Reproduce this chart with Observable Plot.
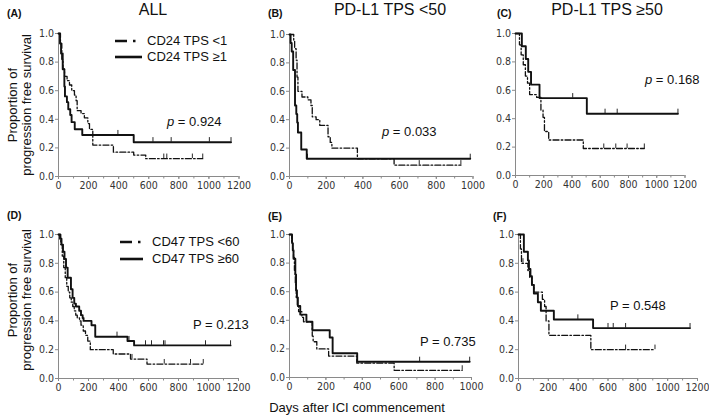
<!DOCTYPE html>
<html><head><meta charset="utf-8">
<script src="https://cdn.jsdelivr.net/npm/d3@7"></script>
<script src="https://cdn.jsdelivr.net/npm/@observablehq/plot@0.6"></script>
<style>
body{margin:0;background:#fff;}
#chart{position:relative;width:709px;height:417px;overflow:hidden;font-family:"Liberation Sans",Arial,sans-serif;color:#111;background:#fff;}
.abs{position:absolute;white-space:nowrap;}
.title{font-size:16px;line-height:18px;transform:translateX(-50%);}
.letter{font-size:10.5px;line-height:12px;font-weight:bold;}
.ylab{font-size:13px;line-height:13.5px;text-align:center;transform:translate(-50%,-50%) rotate(-90deg);}
.pval{font-size:13px;line-height:16px;}
.leg{font-size:13px;line-height:16px;}
.xlab{font-size:13px;line-height:16px;transform:translateX(-50%);}
</style></head>
<body><div id="chart"></div>
<script>
// ---------- data ----------
const colTitles = ["ALL", "PD-L1 TPS <50", "PD-L1 TPS \u226550"];
const panelLetters = ["(A)", "(B)", "(C)", "(D)", "(E)", "(F)"];
const row1Legend = ["CD24 TPS <1", "CD24 TPS \u22651"];
const row2Legend = ["CD47 TPS <60", "CD47 TPS \u226560"];
const pSymbols = ["p", "p", "p", "P", "P", "P"];
const pNumbers = ["0.924", "0.033", "0.168", "0.213", "0.735", "0.548"];
const yLabelLines = ["Proportion of", "progression free survival"];
const xLabel = "Days after ICI commencement";
const yTicks = [0, 0.2, 0.4, 0.6, 0.8, 1.0];
const xTicks1200 = [0, 200, 400, 600, 800, 1000, 1200];
const xTicks1000 = [0, 200, 400, 600, 800, 1000];

// (A) ALL, CD24
const aLowT  = [0, 13, 22, 30, 40, 57, 73, 88, 106, 117, 124, 150, 172, 195, 206, 228, 365, 500, 580, 959];
const aLowS  = [1, 0.93, 0.82, 0.75, 0.70, 0.67, 0.64, 0.60, 0.57, 0.53, 0.46, 0.44, 0.41, 0.37, 0.33, 0.22, 0.17, 0.15, 0.125, 0.125];
const aLowC  = [700, 720, 890, 959];
const aHighT = [0, 10, 17, 28, 39, 43, 56, 65, 78, 87, 108, 158, 500, 1147];
const aHighS = [1, 0.93, 0.86, 0.75, 0.63, 0.56, 0.52, 0.47, 0.43, 0.38, 0.33, 0.29, 0.24, 0.24];
const aHighC = [395, 628, 749, 1003, 1147];
// (B) PD-L1 <50, CD24
const bLowT  = [0, 23, 28, 36, 41, 46, 68, 100, 117, 124, 145, 165, 210, 222, 231, 370, 570, 934];
const bLowS  = [1, 0.96, 0.9, 0.82, 0.7, 0.6, 0.56, 0.54, 0.5, 0.42, 0.4, 0.36, 0.28, 0.24, 0.2, 0.125, 0.08, 0.08];
const bLowC  = [707, 934];
const bHighT = [0, 6, 12, 20, 30, 37, 42, 46, 64, 94, 985];
const bHighS = [1, 0.94, 0.88, 0.75, 0.5, 0.44, 0.38, 0.31, 0.19, 0.125, 0.125];
const bHighC = [98, 985];
// (C) PD-L1 >=50, CD24
const cLowT  = [0, 28, 40, 55, 70, 85, 100, 150, 180, 195, 205, 235, 480, 912];
const cLowS  = [1, 0.92, 0.85, 0.78, 0.70, 0.65, 0.57, 0.55, 0.46, 0.41, 0.31, 0.25, 0.19, 0.19];
const cLowC  = [625, 710, 790, 912];
const cHighT = [0, 45, 73, 90, 110, 170, 505, 1150];
const cHighS = [1, 0.91, 0.82, 0.73, 0.64, 0.545, 0.435, 0.435];
const cHighC = [405, 634, 720, 1150];
// (D) ALL, CD47
const dLowT  = [0, 15, 25, 35, 45, 55, 65, 75, 85, 95, 105, 115, 125, 140, 150, 165, 180, 195, 212, 365, 480, 590, 965];
const dLowS  = [1, 0.93, 0.85, 0.77, 0.70, 0.64, 0.60, 0.56, 0.53, 0.50, 0.47, 0.44, 0.42, 0.40, 0.37, 0.33, 0.30, 0.26, 0.20, 0.17, 0.135, 0.10, 0.10];
const dLowC  = [490, 705, 880, 965];
const dHighT = [0, 10, 20, 30, 40, 50, 61, 83, 94, 105, 116, 138, 150, 161, 167, 220, 245, 460, 504, 1147];
const dHighS = [1, 0.97, 0.93, 0.88, 0.83, 0.77, 0.70, 0.62, 0.56, 0.52, 0.50, 0.47, 0.44, 0.42, 0.40, 0.37, 0.29, 0.26, 0.23, 0.23];
const dHighC = [390, 470, 580, 620, 700, 710, 980, 1147];
// (E) PD-L1 <50, CD47
const eLowT  = [0, 12, 18, 22, 27, 32, 37, 43, 50, 68, 77, 125, 130, 150, 215, 370, 575, 949];
const eLowS  = [1, 0.95, 0.9, 0.84, 0.75, 0.65, 0.55, 0.5, 0.46, 0.42, 0.39, 0.29, 0.25, 0.2, 0.15, 0.1, 0.05, 0.05];
const eLowC  = [949];
const eHighT = [0, 14, 18, 22, 32, 36, 41, 46, 59, 93, 126, 221, 237, 372, 990];
const eHighS = [1, 0.94, 0.89, 0.83, 0.72, 0.61, 0.56, 0.5, 0.44, 0.39, 0.33, 0.28, 0.17, 0.11, 0.11];
const eHighC = [715, 990];
// (F) PD-L1 >=50, CD47
const fLowT  = [0, 13, 20, 63, 75, 90, 103, 160, 175, 185, 204, 485, 915];
const fLowS  = [1, 0.9, 0.8, 0.75, 0.7, 0.65, 0.6, 0.55, 0.5, 0.4, 0.3, 0.2, 0.2];
const fLowC  = [30, 718, 915];
const fHighT = [0, 36, 63, 70, 80, 90, 103, 130, 150, 237, 500, 1150];
const fHighS = [1, 0.88, 0.82, 0.76, 0.71, 0.65, 0.59, 0.53, 0.47, 0.41, 0.35, 0.35];
const fHighC = [398, 600, 635, 718, 1150];

// ---------- layout (pixels) ----------
const geo = [
  {x0: 57.5, x1: 238, y1: 33, y0: 176, xmax: 1200, xt: xTicks1200},
  {x0: 288.5, x1: 472, y1: 34, y0: 176, xmax: 1000, xt: xTicks1000},
  {x0: 514.5, x1: 684, y1: 33, y0: 175, xmax: 1200, xt: xTicks1200},
  {x0: 58, x1: 238, y1: 234, y0: 378, xmax: 1200, xt: xTicks1200},
  {x0: 289, x1: 471, y1: 234, y0: 377, xmax: 1000, xt: xTicks1000},
  {x0: 518, x1: 697, y1: 234, y0: 378, xmax: 1200, xt: xTicks1200}
];
const curves = [
  [{T: aLowT, S: aLowS, C: aLowC, dash: true}, {T: aHighT, S: aHighS, C: aHighC}],
  [{T: bLowT, S: bLowS, C: bLowC, dash: true}, {T: bHighT, S: bHighS, C: bHighC}],
  [{T: cLowT, S: cLowS, C: cLowC, dash: true}, {T: cHighT, S: cHighS, C: cHighC}],
  [{T: dLowT, S: dLowS, C: dLowC, dash: true}, {T: dHighT, S: dHighS, C: dHighC}],
  [{T: eLowT, S: eLowS, C: eLowC, dash: true}, {T: eHighT, S: eHighS, C: eHighC}],
  [{T: fLowT, S: fLowS, C: fLowC, dash: true}, {T: fHighT, S: fHighS, C: fHighC}]
];

const AX = "#8a8a8a", INK = "#111", LBL = "#333";
const DASH = "6,2.2,1.6,2.2";
const TICKFONT = 10.5;
const chart = document.getElementById("chart");

function toRows(T, S) { return T.map((t, i) => ({t, s: S[i]})); }
function survAt(T, S, t) { let v = S[0]; for (let i = 0; i < T.length; i++) if (T[i] <= t) v = S[i]; return v; }
function censRows(C, T, S) { return C.map(t => ({t, s: survAt(T, S, t)})); }

geo.forEach((g, k) => {
  const ml = 38, mt = 8, mb = 20, mr = 12;
  const w = ml + (g.x1 - g.x0) + mr;
  const h = mt + (g.y0 - g.y1) + mb;
  const marks = [
    Plot.ruleX([0], {y1: 0, y2: 1, stroke: AX}),
    Plot.ruleY([0], {x1: 0, x2: g.xmax, stroke: AX}),
    Plot.axisY({ticks: yTicks, tickFormat: d3.format(".1f"), tickSize: 3, tickPadding: 1.5, stroke: AX, fill: LBL, fontSize: TICKFONT, label: null}),
    Plot.axisX({ticks: d3.range(0, g.xmax + 1, 100), tickSize: 2.5, tickFormat: () => "", stroke: AX, label: null}),
    Plot.axisX({ticks: g.xt, tickFormat: d3.format("d"), tickSize: 3, tickPadding: 2, stroke: AX, fill: LBL, fontSize: TICKFONT, label: null})
  ];
  for (const c of curves[k]) {
    marks.push(Plot.line(toRows(c.T, c.S), {x: "t", y: "s", curve: "step-after", stroke: INK,
      strokeWidth: c.dash ? 1.3 : 1.9, strokeDasharray: c.dash ? DASH : undefined}));
    marks.push(Plot.ruleX(censRows(c.C, c.T, c.S), {x: "t", y1: "s", y2: d => d.s + 0.032, stroke: INK, strokeWidth: 0.9}));
  }
  const svg = Plot.plot({
    width: w, height: h, marginLeft: ml, marginRight: mr, marginTop: mt, marginBottom: mb,
    x: {domain: [0, g.xmax]}, y: {domain: [0, 1]},
    style: {background: "transparent", fontFamily: "'DejaVu Sans Condensed','DejaVu Sans',sans-serif", fontSize: TICKFONT + "px", overflow: "visible"},
    marks
  });
  svg.style.position = "absolute";
  svg.style.left = (g.x0 - ml) + "px";
  svg.style.top = (g.y1 - mt) + "px";
  chart.appendChild(svg);
});

function addDiv(cls, html, left, top) {
  const d = document.createElement("div");
  d.className = "abs " + cls;
  d.innerHTML = html;
  d.style.left = left + "px";
  d.style.top = top + "px";
  chart.appendChild(d);
  return d;
}
// column titles
const titleX = [153, 390, 607];
colTitles.forEach((t, i) => addDiv("title", t, titleX[i], 1));
// panel letters
const letterPos = [[7, 7], [268, 7], [497, 7], [7, 209], [268, 210], [493, 210]];
panelLetters.forEach((t, i) => addDiv("letter", t, letterPos[i][0], letterPos[i][1]));
// y labels
[105, 300].forEach(cy => addDiv("ylab", yLabelLines.join("<br>"), 19, cy));
// x label
addDiv("xlab", xLabel, 357, 400);
// p values
const pPos = [[167, 114], [382, 124], [645, 72], [193, 317], [420, 334], [610, 298]];
pNumbers.forEach((n, i) => {
  const sym = i < 3 ? "<i>" + pSymbols[i] + "</i>" : pSymbols[i];
  addDiv("pval", sym + " = " + n, pPos[i][0], pPos[i][1]);
});
// legends
function legendSample(left, cy, width, dash) {
  const ns = "http://www.w3.org/2000/svg";
  const s = document.createElementNS(ns, "svg");
  s.setAttribute("width", width); s.setAttribute("height", 6);
  s.style.position = "absolute"; s.style.left = left + "px"; s.style.top = (cy - 3) + "px";
  const l = document.createElementNS(ns, "line");
  l.setAttribute("x1", 0); l.setAttribute("x2", width); l.setAttribute("y1", 3); l.setAttribute("y2", 3);
  l.setAttribute("stroke", INK); l.setAttribute("stroke-width", 2.6);
  if (dash) l.setAttribute("stroke-dasharray", "12,6,2.5,8");
  s.appendChild(l);
  chart.appendChild(s);
}
const legRows = [
  {labels: row1Legend, sx: 115, sw: 27, tx: 147, ys: [41, 57]},
  {labels: row2Legend, sx: 120, sw: 23, tx: 152, ys: [242, 259]}
];
legRows.forEach(r => {
  r.labels.forEach((lab, j) => {
    legendSample(r.sx, r.ys[j], r.sw, j === 0);
    addDiv("leg", lab, r.tx, r.ys[j] - 8);
  });
});
</script></body></html>
